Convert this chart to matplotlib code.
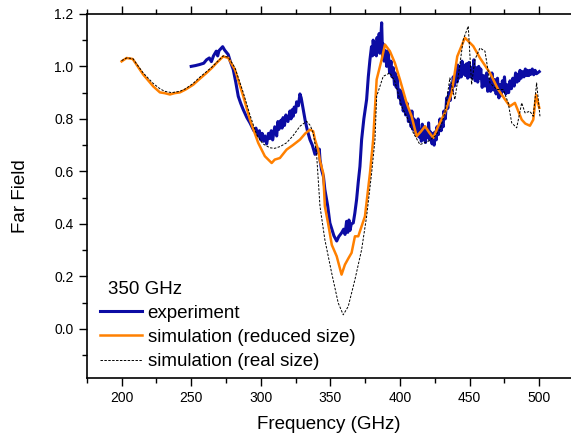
import matplotlib
matplotlib.use("Agg")
from matplotlib import pyplot as plt
from matplotlib.ticker import MultipleLocator, FormatStrFormatter

plt.rcParams['font.family'] = ['Liberation Sans', 'DejaVu Sans']

# experiment (blue), noisy trace, (GHz, far field)
exp_points = [
    (250, 1.000), (253, 1.003), (256, 1.007), (259, 1.012), (261, 1.025), (263, 1.032),
    (264.5, 1.018), (266, 1.040), (268, 1.058), (269, 1.040), (270, 1.060), (272.6, 1.075),
    (274, 1.062), (276.6, 1.045), (278, 1.020), (280.2, 0.988), (282, 0.940), (283.8, 0.886),
    (285.5, 0.860), (287.4, 0.835), (290, 0.805), (292.2, 0.785), (295, 0.755), (296.5, 0.765),
    (298.1, 0.734), (299, 0.755), (300, 0.720), (301, 0.745), (302, 0.715), (303, 0.735),
    (304.2, 0.705), (305.5, 0.745), (306.5, 0.725), (307.5, 0.755), (308.5, 0.720),
    (310, 0.770), (311.4, 0.735), (312.3, 0.790), (313, 0.760), (314.5, 0.795), (315.3, 0.765),
    (316, 0.805), (317, 0.775), (318, 0.815), (319.5, 0.790), (320.9, 0.830), (321.7, 0.800),
    (322.5, 0.835), (323.3, 0.810), (324, 0.845), (325, 0.825), (325.7, 0.865), (327, 0.850),
    (328.1, 0.895), (329, 0.880), (330.5, 0.835), (332, 0.790), (333.5, 0.755), (335.3, 0.721),
    (337, 0.700), (338.9, 0.665), (340, 0.690), (341.2, 0.670), (342, 0.685), (342.5, 0.645),
    (343.6, 0.607), (345, 0.580), (346, 0.531), (348, 0.470), (349.6, 0.404), (351, 0.380),
    (352.5, 0.355), (354.5, 0.335), (356, 0.352), (358, 0.366), (359.5, 0.380), (360.5, 0.360),
    (361.6, 0.410), (362.5, 0.368), (363.3, 0.415), (364, 0.375), (365, 0.400), (366.4, 0.404),
    (367.5, 0.440), (368.8, 0.493), (370, 0.560), (371.2, 0.619), (372.4, 0.721),
    (374, 0.800), (376, 0.874), (377.2, 0.960), (378.4, 1.026), (379.5, 1.075), (380.2, 1.040),
    (380.7, 1.100), (381.5, 1.045), (382, 1.090), (383, 1.040), (383.5, 1.110), (384, 1.055),
    (385, 1.125), (385.5, 1.050), (386, 1.090), (386.8, 1.166), (387.5, 1.030), (388, 1.085),
    (388.5, 1.020), (389.5, 1.060), (390.4, 1.000), (391.5, 1.060), (392.5, 0.975),
    (393.5, 1.020), (394.3, 0.960), (395.1, 0.995), (396, 0.930), (396.5, 0.975), (397.3, 0.920),
    (398, 0.960), (399, 0.880), (400, 0.910), (400.8, 0.855), (401.5, 0.900), (402.3, 0.830),
    (403, 0.870), (404, 0.815), (405, 0.860), (406, 0.790), (407.1, 0.830), (408, 0.770),
    (408.5, 0.830), (409.3, 0.760), (410, 0.800), (411, 0.745), (411.9, 0.790), (412.5, 0.735),
    (413, 0.800), (414, 0.730), (414.5, 0.760), (415.3, 0.715), (416, 0.780), (417, 0.720),
    (417.5, 0.770), (418.3, 0.710), (419.1, 0.760), (420, 0.730), (420.5, 0.785), (421.3, 0.720),
    (422, 0.750), (423, 0.705), (423.9, 0.745), (424.5, 0.700), (425, 0.750), (426, 0.720),
    (426.5, 0.770), (427.5, 0.740), (428.7, 0.800), (429.5, 0.755), (430, 0.790), (431, 0.770),
    (431.5, 0.830), (432.5, 0.800), (433.5, 0.880), (434.3, 0.840), (435, 0.900), (436, 0.870),
    (436.5, 0.930), (437.3, 0.900), (438.2, 0.960), (439, 0.925), (440, 0.975), (441, 0.940),
    (441.5, 1.005), (442.3, 0.955), (443, 1.000), (444, 0.960), (444.5, 1.020), (445.3, 0.970),
    (446, 1.005), (447, 0.965), (447.8, 1.010), (448.6, 0.955), (449.5, 1.015), (450.3, 0.960),
    (451, 0.995), (452, 0.955), (453, 1.025), (454, 0.945), (455, 0.995), (455.8, 0.940),
    (456.5, 1.000), (457.3, 0.955), (458, 0.990), (459, 0.920), (460, 0.965), (461, 0.925),
    (462.2, 0.975), (463, 0.905), (464, 0.950), (465, 0.905), (466, 0.975), (467, 0.910),
    (468, 0.950), (469, 0.895), (470, 0.955), (471, 0.880), (471.8, 0.930), (472.6, 0.890),
    (473.5, 0.945), (474.3, 0.905), (475, 0.960), (476, 0.895), (477, 0.930), (478, 0.900),
    (479, 0.945), (480, 0.915), (481, 0.955), (482, 0.925), (483, 0.975), (484, 0.940),
    (484.5, 0.970), (485.3, 0.945), (486.2, 0.985), (487, 0.955), (488, 0.980), (489, 0.960),
    (490, 0.990), (491, 0.965), (491.5, 0.985), (492.5, 0.965), (493.3, 0.985), (494, 0.970),
    (495, 0.990), (496, 0.968), (497, 0.985), (498, 0.972), (500, 0.980),
]
f_exp = [p[0] for p in exp_points]
y_exp = [p[1] for p in exp_points]

# simulation (reduced size), orange
red_points = [
    (200, 1.019), (203.6, 1.032), (208, 1.028), (215.5, 0.969), (222.7, 0.924), (227.5, 0.901),
    (231, 0.898), (234.7, 0.893), (238, 0.898), (241.9, 0.901), (246, 0.912), (251.4, 0.930),
    (256, 0.952), (261, 0.975), (265, 0.995), (268.2, 1.013), (273, 1.038), (276.6, 1.032),
    (281.4, 0.988), (287.4, 0.886), (292.2, 0.797), (298.1, 0.709), (302.9, 0.658), (307.8, 0.632),
    (310, 0.645), (313.7, 0.651), (318.5, 0.683), (323, 0.700), (328.1, 0.721), (332, 0.745),
    (335.3, 0.759), (337.6, 0.753), (338.9, 0.721), (341.2, 0.683), (342.5, 0.640), (344.8, 0.594),
    (346, 0.467), (348.4, 0.400), (351, 0.320), (354.5, 0.277), (358, 0.207), (360.4, 0.245),
    (363, 0.270), (365.2, 0.290), (367.6, 0.353), (370, 0.353), (372, 0.385), (374.8, 0.429),
    (378.4, 0.594), (380.7, 0.721), (383.2, 0.950), (386.8, 1.026), (389.2, 1.083), (392.7, 1.058),
    (396.3, 1.013), (399.9, 0.950), (404.7, 0.861), (408.3, 0.810), (411.9, 0.734), (415, 0.752),
    (417.9, 0.772), (421, 0.748), (423.9, 0.728), (427.4, 0.772), (432.2, 0.823), (437.1, 0.899),
    (441.1, 1.038), (446.6, 1.109), (452.6, 1.077), (457.4, 1.032), (464.6, 0.975), (470.5, 0.912),
    (475.4, 0.874), (478.9, 0.848), (482.5, 0.861), (487.4, 0.797), (490, 0.782), (493.3, 0.774),
    (495.7, 0.797), (497.7, 0.892), (500, 0.842),
]
f_red = [p[0] for p in red_points]
y_red = [p[1] for p in red_points]

# simulation (real size), black dashed
real_points = [
    (200, 1.022), (203.6, 1.032), (208, 1.030), (215.5, 0.975), (222.7, 0.935), (227.5, 0.915),
    (231, 0.905), (236, 0.900), (241.9, 0.905), (246, 0.915), (251.4, 0.935), (256, 0.958),
    (261, 0.980), (265, 0.998), (268.2, 1.015), (273, 1.040), (276.6, 1.035), (281.4, 0.995),
    (287.4, 0.900), (292.2, 0.815), (297, 0.740), (301.5, 0.705), (306.5, 0.690), (310, 0.688),
    (314, 0.695), (318.5, 0.709), (323, 0.735), (328.1, 0.772), (332.9, 0.791), (335.5, 0.775),
    (337.6, 0.747), (340, 0.670), (342.5, 0.467), (346, 0.340), (350.9, 0.213), (355.6, 0.099),
    (359.2, 0.054), (362.8, 0.086), (367.6, 0.188), (372.4, 0.302), (376, 0.429), (379.6, 0.594),
    (382, 0.721), (383.2, 0.886), (387.9, 0.962), (392.7, 0.975), (396.3, 0.943), (401.1, 0.848),
    (405.9, 0.797), (409.5, 0.747), (414.3, 0.702), (420.3, 0.715), (425.1, 0.734), (428.7, 0.759),
    (432.2, 0.823), (435.8, 0.956), (439.4, 0.874), (441.8, 0.962), (445.4, 1.102), (449, 1.153),
    (451.4, 0.931), (453.8, 1.026), (457.4, 1.070), (461, 1.058), (464.6, 0.937), (469.4, 0.912),
    (474.1, 0.912), (477.7, 0.861), (480.2, 0.785), (483.8, 0.766), (487.4, 0.861), (489.8, 0.823),
    (493.3, 0.829), (495.7, 0.810), (498.1, 0.937), (500.5, 0.810),
]
f_real = [p[0] for p in real_points]
y_real = [p[1] for p in real_points]

fig = plt.figure(figsize=(5.71, 4.33), dpi=100)
ax = fig.add_axes([0.152, 0.128, 0.848, 0.84])

ax.plot(f_exp, y_exp, c='#0c0ca4', lw=2.2, label='experiment')
ax.plot(f_red, y_red, c='#ff8000', lw=1.8, label='simulation (reduced size)')
ax.plot(f_real, y_real, '--', c='k', lw=0.7, dashes=(2.5, 1.5), label='simulation (real size)')

ax.set_xlim(175, 522.8)
ax.set_ylim(-0.185, 1.2)
ax.set_xticks([200, 250, 300, 350, 400, 450, 500])
ax.set_yticks([0.0, 0.2, 0.4, 0.6, 0.8, 1.0, 1.2])
ax.xaxis.set_minor_locator(MultipleLocator(25))
ax.yaxis.set_minor_locator(MultipleLocator(0.1))
ax.yaxis.set_major_formatter(FormatStrFormatter('%.1f'))
ax.tick_params(which='both', direction='out', top=True, right=False, labelsize=10, width=1)
ax.tick_params(which='major', length=6)
ax.tick_params(which='minor', length=3.5)
ax.spines['right'].set_visible(False)
for s in ['left', 'bottom', 'top']:
    ax.spines[s].set_linewidth(1.2)

ax.set_xlabel('Frequency (GHz)', fontsize=13.5, labelpad=8)
ax.set_ylabel('Far Field', fontsize=13.5, labelpad=18)

leg = ax.legend(title='350 GHz', loc='lower left', bbox_to_anchor=(0.027, 0.02),
                frameon=False, fontsize=13.5, title_fontsize=13.5, borderpad=0,
                borderaxespad=0, handlelength=2.25, handletextpad=0.3, labelspacing=0.38,
                alignment='left')
leg.get_title().set_position((8, 0))

fig.savefig('out.png', dpi=100)
